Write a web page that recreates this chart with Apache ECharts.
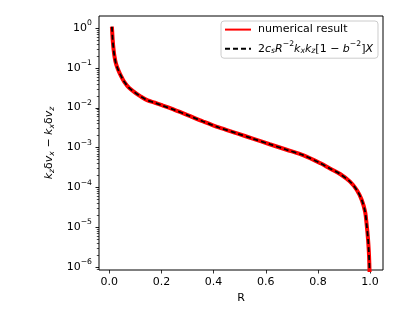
<!DOCTYPE html>
<html>
<head>
<meta charset="utf-8">
<script src="https://cdn.jsdelivr.net/npm/echarts@6/dist/echarts.min.js"></script>
<style>
html,body{margin:0;padding:0;background:#fff;}
#c{width:399px;height:319px;}
</style>
</head>
<body>
<div id="c"></div>
<script>
// R values (x)
var rValues = [0.01, 0.011, 0.013, 0.016, 0.02, 0.025, 0.032, 0.04, 0.05, 0.058, 0.075, 0.096, 0.12, 0.147, 0.175, 0.205, 0.25, 0.3, 0.36, 0.42, 0.49, 0.55, 0.615, 0.68, 0.745, 0.81, 0.846, 0.885, 0.923, 0.949, 0.968, 0.981, 0.987, 0.992, 0.995, 0.997, 0.999];
// numerical result values
var numerical = [1.072, 0.832, 0.501, 0.302, 0.191, 0.132, 0.0955, 0.0724, 0.0537, 0.0437, 0.0316, 0.0245, 0.0191, 0.0151, 0.0132, 0.0112, 0.00871, 0.00646, 0.00447, 0.00316, 0.00224, 0.00166, 0.00120, 0.000871, 0.000631, 0.000398, 0.000295, 0.000214, 0.000138, 0.0000851, 0.0000479, 0.0000240, 0.0000112, 0.0000050, 0.0000025, 0.00000126, 0.0000004];
// analytic expression values (overlapping the numerical result)
var analytic = [1.072, 0.832, 0.501, 0.302, 0.191, 0.132, 0.0955, 0.0724, 0.0537, 0.0437, 0.0316, 0.0245, 0.0191, 0.0151, 0.0132, 0.0112, 0.00871, 0.00646, 0.00447, 0.00316, 0.00224, 0.00166, 0.00120, 0.000871, 0.000631, 0.000398, 0.000295, 0.000214, 0.000138, 0.0000851, 0.0000479, 0.0000240, 0.0000112, 0.0000050, 0.0000025, 0.00000126, 0.0000004];
// tick values
var xTicks = [0, 0.2, 0.4, 0.6, 0.8, 1.0];
var xTickLabels = ['0.0', '0.2', '0.4', '0.6', '0.8', '1.0'];
var yTicks = [1e-6, 1e-5, 1e-4, 1e-3, 1e-2, 1e-1, 1];
var yTickExps = ['\u22126', '\u22125', '\u22124', '\u22123', '\u22122', '\u22121', '0'];
var yMinorTicks = [9e-7,
  2e-6, 3e-6, 4e-6, 5e-6, 6e-6, 7e-6, 8e-6, 9e-6,
  2e-5, 3e-5, 4e-5, 5e-5, 6e-5, 7e-5, 8e-5, 9e-5,
  2e-4, 3e-4, 4e-4, 5e-4, 6e-4, 7e-4, 8e-4, 9e-4,
  2e-3, 3e-3, 4e-3, 5e-3, 6e-3, 7e-3, 8e-3, 9e-3,
  2e-2, 3e-2, 4e-2, 5e-2, 6e-2, 7e-2, 8e-2, 9e-2,
  0.2, 0.3, 0.4, 0.5, 0.6, 0.7, 0.8, 0.9];
var seriesNames = ['numerical result', 'analytic'];
var X_MIN = -0.0395, X_MAX = 1.0495;
var Y_MIN = 8.32e-7, Y_MAX = 1.995;

var FONT = 'DejaVu Sans';
function pairs(xs, ys) { return xs.map(function (x, i) { return [x, ys[i]]; }); }

var chart = echarts.init(document.getElementById('c'), null, {renderer: 'canvas'});
var supStyle = {fontSize: 7.7, fontFamily: FONT, color: '#000', padding: [0, 0, 9, 0]};
var subStyle = {fontSize: 7.7, fontFamily: FONT, fontStyle: 'italic', color: '#000', padding: [5, 0, 0, 0]};
var itStyle = {fontSize: 11, fontFamily: FONT, fontStyle: 'italic', color: '#000'};
var nStyle = {fontSize: 11, fontFamily: FONT, color: '#000'};

chart.setOption({
  animation: false,
  grid: {left: 99, right: 16, top: 16, bottom: 49, show: true, borderColor: '#000', borderWidth: 1, backgroundColor: 'transparent'},
  legend: {
    orient: 'vertical', left: 221, top: 21,
    padding: [3, 5, 3, 3], itemGap: 5, itemWidth: 26, itemHeight: 14,
    borderColor: '#cccccc', borderWidth: 1, borderRadius: 3, backgroundColor: 'rgba(255,255,255,0.8)',
    data: seriesNames,
    itemStyle: {color: 'rgba(0,0,0,0)', borderWidth: 0},
    formatter: function (name) {
      if (name === seriesNames[0]) return '{n|numerical result}';
      return '{n|2}{i|c}{sub|s}{i|R}{sup|\u22122}{i|k}{sub|x}{i|k}{sub|z}{n|[1 \u2212 }{i|b}{sup|\u22122}{n|]}{i|X}';
    },
    textStyle: {fontSize: 11, fontFamily: FONT, color: '#000', padding: [0, 0, 0, 2],
      rich: {n: nStyle, i: itStyle, sub: subStyle, sup: supStyle}}
  },
  xAxis: {
    type: 'value', min: X_MIN, max: X_MAX,
    name: 'R', nameLocation: 'middle', nameGap: 21,
    nameTextStyle: {fontSize: 11, fontFamily: FONT, color: '#000'},
    axisLine: {show: false},
    splitLine: {show: false},
    axisTick: {show: true, length: 3.5, lineStyle: {color: '#000', width: 0.8}, customValues: xTicks},
    axisLabel: {margin: 7, fontSize: 11, fontFamily: FONT, color: '#000', customValues: xTicks,
      formatter: function (v) { var i = xTicks.indexOf(v); return i >= 0 ? xTickLabels[i] : ''; }}
  },
  yAxis: {
    type: 'log', logBase: 10, min: Y_MIN, max: Y_MAX,
    name: '{i|k}{sub|z}{n|\u03b4}{i|v}{sub|x}{n| \u2212 }{i|k}{sub|x}{n|\u03b4}{i|v}{sub|z}',
    nameLocation: 'middle', nameRotate: 90, nameGap: 38,
    nameTextStyle: {fontSize: 11, fontFamily: FONT, color: '#000', rich: {n: nStyle, i: itStyle, sub: subStyle}},
    axisLine: {show: false},
    splitLine: {show: false},
    axisTick: {show: false},
    axisLabel: {margin: 7, fontSize: 11, fontFamily: FONT, color: '#000', customValues: yTicks,
      formatter: function (v) {
        for (var i = 0; i < yTicks.length; i++) {
          if (Math.abs(Math.log10(v) - Math.log10(yTicks[i])) < 1e-6) return '{b|10}{sup|' + yTickExps[i] + '}';
        }
        return '';
      },
      rich: {b: nStyle, sup: supStyle}}
  },
  series: [{
    name: seriesNames[0], type: 'line', data: pairs(rValues, numerical),
    showSymbol: false, symbol: 'none', smooth: 0.3, clip: true,
    lineStyle: {color: '#ff0000', width: 4}, itemStyle: {color: '#ff0000'}, z: 2
  }, {
    name: seriesNames[1], type: 'line', data: pairs(rValues, analytic),
    showSymbol: false, symbol: 'none', smooth: 0.3, clip: true,
    lineStyle: {color: '#000000', width: 1.8, type: [5, 3]}, itemStyle: {color: '#000000'}, z: 3
  }, {
    // y-axis major and minor tick marks, placed through the log axis scale
    // (shares the first series' name so the legend does not filter it out)
    name: seriesNames[0], type: 'custom', silent: true, clip: false, z: 5,
    itemStyle: {color: '#000', opacity: 1},
    data: yTicks.map(function (v) { return [X_MIN, v, 3.5]; }).concat(yMinorTicks.map(function (v) { return [X_MIN, v, 2.2]; })),
    renderItem: function (params, api) {
      var p = api.coord([api.value(0), api.value(1)]);
      var len = api.value(2);
      var y = Math.round(p[1]) + 0.5;
      return {type: 'line', shape: {x1: p[0] - len, y1: y, x2: p[0], y2: y},
        style: {stroke: '#000', lineWidth: len > 3 ? 0.9 : 0.7, opacity: 1}};
    }
  }]
});
</script>
</body>
</html>
